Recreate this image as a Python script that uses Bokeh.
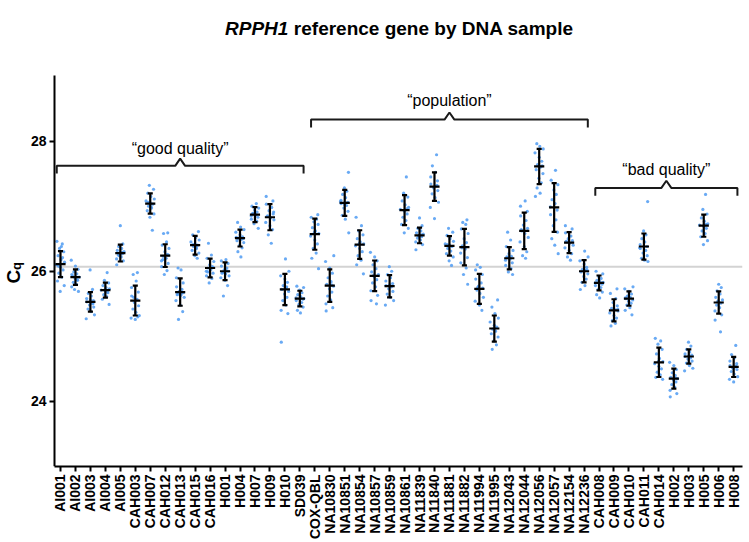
import math
from bokeh.plotting import figure
from bokeh.models import ColumnDataSource, FixedTicker
from bokeh.core.properties import value
from bokeh.embed import file_html
from bokeh.resources import INLINE

# ---------------- data ----------------
samples = ["AI001", "AI002", "AI003", "AI004", "AI005", "CAH003", "CAH007", "CAH012",
           "CAH013", "CAH015", "CAH016", "H001", "H004", "H007", "H009", "H010", "SD039",
           "COX-QBL", "NA10830", "NA10851", "NA10854", "NA10857", "NA10859", "NA10861",
           "NA11839", "NA11840", "NA11881", "NA11882", "NA11994", "NA11995", "NA12043",
           "NA12044", "NA12056", "NA12057", "NA12154", "NA12236",
           "CAH008", "CAH009", "CAH010", "CAH011", "CAH014", "H002", "H003", "H005",
           "H006", "H008"]

means = [26.11, 25.91, 25.53, 25.71, 26.28, 25.55, 27.04, 26.24, 25.68, 26.40, 26.05,
         26.00, 26.51, 26.87, 26.83, 25.72, 25.58,
         26.57, 25.78, 27.05, 26.41, 25.93, 25.77, 26.94, 26.55, 27.30, 26.39, 26.37,
         25.73, 25.12, 26.20, 26.62, 27.61, 26.98, 26.44, 26.00,
         25.82, 25.40, 25.58, 26.38, 24.60, 24.35, 24.69, 26.70, 25.52, 24.53]

errs = [0.20, 0.12, 0.15, 0.115, 0.13, 0.23, 0.155, 0.175, 0.21, 0.145, 0.145,
        0.135, 0.13, 0.115, 0.20, 0.24, 0.12,
        0.24, 0.25, 0.20, 0.22, 0.235, 0.17, 0.23, 0.12, 0.22, 0.15, 0.28,
        0.23, 0.20, 0.17, 0.28, 0.27, 0.375, 0.16, 0.17,
        0.115, 0.17, 0.11, 0.20, 0.225, 0.155, 0.11, 0.17, 0.17, 0.155]

cq_points = [
    [26.46, 26.42, 26.35, 26.30, 26.24, 26.18, 26.14, 26.10, 26.06, 26.02, 25.97, 25.91, 25.85, 25.78, 25.69, 26.21, 26.08, 26.38],
    [26.17, 26.08, 26.03, 25.99, 25.96, 25.93, 25.91, 25.89, 25.86, 25.83, 25.80, 25.76, 25.69, 25.95, 25.87, 25.72],
    [26.02, 25.72, 25.66, 25.62, 25.58, 25.55, 25.53, 25.51, 25.48, 25.45, 25.42, 25.38, 25.33, 25.27, 25.56, 25.50],
    [25.98, 25.86, 25.82, 25.78, 25.75, 25.73, 25.71, 25.69, 25.67, 25.64, 25.61, 25.57, 25.49, 25.72, 25.68],
    [26.70, 26.42, 26.38, 26.35, 26.32, 26.30, 26.28, 26.27, 26.25, 26.22, 26.19, 26.16, 26.10, 26.29, 26.24],
    [25.98, 25.95, 25.85, 25.75, 25.68, 25.62, 25.57, 25.52, 25.47, 25.42, 25.37, 25.32, 25.28, 25.26, 25.30, 25.60],
    [27.32, 27.26, 27.20, 27.15, 27.11, 27.08, 27.05, 27.03, 27.00, 26.97, 26.93, 26.88, 26.83, 26.63, 27.06, 26.99],
    [26.59, 26.58, 26.45, 26.40, 26.35, 26.30, 26.26, 26.23, 26.20, 26.16, 26.12, 26.07, 26.01, 25.95, 26.25, 26.18],
    [26.05, 26.02, 25.90, 25.82, 25.76, 25.72, 25.69, 25.67, 25.65, 25.63, 25.60, 25.55, 25.48, 25.38, 25.26, 25.66, 25.64],
    [26.61, 26.56, 26.52, 26.48, 26.45, 26.42, 26.40, 26.38, 26.35, 26.32, 26.28, 26.24, 26.20, 26.41, 26.37],
    [26.43, 26.25, 26.20, 26.15, 26.10, 26.07, 26.05, 26.03, 26.00, 25.97, 25.93, 25.89, 25.82, 26.06, 25.99],
    [26.18, 26.16, 26.12, 26.08, 26.05, 26.02, 26.00, 25.98, 25.96, 25.93, 25.90, 25.86, 25.78, 25.62, 26.01, 25.97],
    [26.75, 26.68, 26.64, 26.60, 26.56, 26.53, 26.51, 26.49, 26.47, 26.44, 26.40, 26.36, 26.30, 26.22, 26.52, 26.50],
    [27.04, 27.00, 26.97, 26.94, 26.91, 26.89, 26.87, 26.85, 26.83, 26.80, 26.77, 26.73, 26.66, 26.88, 26.86],
    [27.15, 27.08, 27.03, 26.98, 26.93, 26.88, 26.85, 26.82, 26.79, 26.75, 26.70, 26.64, 26.56, 26.43, 26.84, 26.91],
    [26.19, 26.00, 25.93, 25.88, 25.83, 25.78, 25.75, 25.72, 25.69, 25.65, 25.60, 25.55, 25.48, 25.40, 25.35, 24.91, 25.76],
    [25.77, 25.75, 25.71, 25.67, 25.64, 25.61, 25.59, 25.57, 25.55, 25.52, 25.49, 25.45, 25.40, 25.36, 25.58],
    [26.87, 26.83, 26.80, 26.76, 26.72, 26.67, 26.62, 26.58, 26.54, 26.48, 26.42, 26.35, 26.28, 26.20, 26.04, 26.60],
    [26.24, 26.15, 26.05, 25.97, 25.90, 25.84, 25.80, 25.77, 25.73, 25.68, 25.62, 25.56, 25.50, 25.44, 25.39, 25.79],
    [27.52, 27.28, 27.23, 27.18, 27.13, 27.09, 27.06, 27.04, 27.01, 26.97, 26.92, 26.86, 26.80, 26.59, 27.07, 27.02],
    [26.83, 26.70, 26.62, 26.56, 26.50, 26.45, 26.42, 26.39, 26.35, 26.30, 26.24, 26.17, 26.10, 25.96, 26.43],
    [26.29, 26.22, 26.16, 26.10, 26.04, 25.99, 25.95, 25.91, 25.87, 25.82, 25.76, 25.70, 25.63, 25.55, 25.50, 25.94],
    [26.07, 26.00, 25.95, 25.90, 25.85, 25.81, 25.78, 25.76, 25.73, 25.69, 25.65, 25.60, 25.55, 25.48, 25.79],
    [27.45, 27.20, 27.14, 27.08, 27.02, 26.98, 26.95, 26.92, 26.88, 26.83, 26.78, 26.72, 26.66, 26.59, 26.96],
    [26.82, 26.70, 26.66, 26.62, 26.59, 26.57, 26.55, 26.53, 26.51, 26.48, 26.45, 26.41, 26.33, 26.56, 26.54],
    [27.79, 27.62, 27.52, 27.45, 27.39, 27.34, 27.31, 27.28, 27.24, 27.19, 27.13, 27.06, 26.98, 26.81, 27.32],
    [26.66, 26.60, 26.55, 26.50, 26.46, 26.42, 26.40, 26.38, 26.35, 26.31, 26.27, 26.22, 26.16, 26.09, 26.41],
    [26.79, 26.75, 26.72, 26.65, 26.58, 26.50, 26.44, 26.39, 26.34, 26.28, 26.21, 26.13, 26.05, 25.95, 25.80, 26.36],
    [26.10, 26.06, 26.02, 25.95, 25.88, 25.82, 25.77, 25.74, 25.71, 25.66, 25.60, 25.54, 25.48, 25.40, 25.75],
    [25.56, 25.45, 25.35, 25.28, 25.22, 25.17, 25.14, 25.11, 25.08, 25.04, 24.99, 24.93, 24.87, 24.80, 25.13],
    [26.60, 26.48, 26.38, 26.32, 26.27, 26.23, 26.21, 26.19, 26.17, 26.13, 26.09, 26.04, 25.99, 25.95, 26.22],
    [27.08, 27.00, 26.92, 26.85, 26.78, 26.71, 26.66, 26.62, 26.58, 26.52, 26.45, 26.38, 26.30, 26.24, 26.20, 26.64],
    [27.96, 27.92, 27.88, 27.82, 27.75, 27.69, 27.64, 27.60, 27.56, 27.50, 27.43, 27.36, 27.28, 27.20, 27.15, 27.62],
    [27.55, 27.40, 27.33, 27.25, 27.18, 27.10, 27.04, 26.99, 26.94, 26.87, 26.79, 26.70, 26.60, 26.50, 26.40, 26.27],
    [26.70, 26.65, 26.59, 26.54, 26.50, 26.47, 26.45, 26.43, 26.40, 26.36, 26.32, 26.27, 26.22, 26.17, 26.46],
    [26.31, 26.22, 26.16, 26.11, 26.06, 26.03, 26.01, 25.99, 25.96, 25.92, 25.88, 25.83, 25.78, 25.72, 26.02],
    [26.00, 25.96, 25.92, 25.89, 25.86, 25.84, 25.82, 25.80, 25.78, 25.75, 25.72, 25.68, 25.64, 25.59, 25.83],
    [25.73, 25.66, 25.58, 25.52, 25.47, 25.43, 25.41, 25.39, 25.36, 25.32, 25.28, 25.24, 25.20, 25.16, 25.42],
    [25.76, 25.73, 25.69, 25.65, 25.62, 25.60, 25.58, 25.56, 25.54, 25.51, 25.48, 25.44, 25.40, 25.33, 25.59],
    [27.07, 26.62, 26.56, 26.50, 26.45, 26.41, 26.38, 26.35, 26.32, 26.28, 26.24, 26.20, 26.17, 26.15, 26.36],
    [24.97, 24.93, 24.88, 24.80, 24.73, 24.66, 24.61, 24.58, 24.54, 24.50, 24.45, 24.41, 24.37, 24.34, 24.62],
    [24.60, 24.55, 24.49, 24.44, 24.40, 24.37, 24.35, 24.33, 24.30, 24.26, 24.22, 24.17, 24.12, 24.07, 24.36],
    [24.91, 24.85, 24.80, 24.76, 24.73, 24.71, 24.69, 24.67, 24.65, 24.62, 24.59, 24.55, 24.51, 24.47, 24.70],
    [27.18, 26.95, 26.88, 26.82, 26.77, 26.73, 26.71, 26.69, 26.66, 26.62, 26.58, 26.53, 26.47, 26.41, 26.72],
    [25.80, 25.75, 25.70, 25.65, 25.60, 25.56, 25.53, 25.51, 25.48, 25.44, 25.39, 25.33, 25.25, 25.07, 25.54],
    [24.86, 24.72, 24.67, 24.62, 24.58, 24.55, 24.53, 24.51, 24.49, 24.46, 24.42, 24.38, 24.34, 24.30, 24.54],
]

group_labels = ["\u201cgood quality\u201d", "\u201cpopulation\u201d", "\u201cbad quality\u201d"]
group_first = [0, 17, 36]
group_last = [16, 35, 45]
reference_cq = 26.07
y_ticks = [24, 26, 28]
y_min, y_max = 23, 29

# ---------------- layout / style constants ----------------
FONT = "Liberation Sans"
X_AXIS_AT = -0.4          # where the y axis sits (data units)
X_LO, X_HI = -4.01, 45.59  # full frame (title and C_q live inside the frame)
Y_TOP = 30.16
BRACKET_Y = [27.62, 28.33, 27.28]
LABEL_Y = [27.89, 28.62, 27.57]
JIT = [-0.24, 0.12, -0.06, 0.22, -0.16, 0.04, 0.27, -0.28, 0.0, 0.17,
       -0.11, 0.09, -0.2, 0.25, -0.02, 0.14, -0.14, 0.06, -0.25, 0.2]
DOT_COLOR = "#4f9bf2"

n = len(samples)
idx = list(range(n))

p = figure(frame_width=742, frame_height=466,
           x_range=(X_LO, X_HI), y_range=(y_min, Y_TOP),
           min_border_left=0, min_border_right=6, min_border_top=0, min_border_bottom=66,
           output_backend="svg", toolbar_location=None, title=None,
           background_fill_color="white", border_fill_color="white")
p.outline_line_color = None
p.grid.visible = False

# reference line
p.segment(x0=[X_AXIS_AT], x1=[X_HI], y0=[reference_cq], y1=[reference_cq],
          line_color="#d3d3d3", line_width=2)

# jittered points
px, py = [], []
for i, pts in enumerate(cq_points):
    for k, v in enumerate(pts):
        px.append(i + JIT[(k + 7 * i) % len(JIT)])
        py.append(v)
p.scatter(px, py, size=3.2, fill_color=DOT_COLOR, line_color=None, fill_alpha=0.85)

# error bars and mean
lo = [m - e for m, e in zip(means, errs)]
hi = [m + e for m, e in zip(means, errs)]
src = ColumnDataSource(dict(
    x=idx, lo=lo, hi=hi, m=means,
    cl=[i - 0.17 for i in idx], cr=[i + 0.17 for i in idx],
    ml=[i - 0.34 for i in idx], mr=[i + 0.34 for i in idx]))
for a, b, c, d in [("x", "x", "lo", "hi"), ("cl", "cr", "lo", "lo"),
                   ("cl", "cr", "hi", "hi"), ("ml", "mr", "m", "m")]:
    p.segment(x0=a, x1=b, y0=c, y1=d, source=src, line_color="black", line_width=2.2)

# group brackets
for lab, a, b, by, ly in zip(group_labels, group_first, group_last, BRACKET_Y, LABEL_Y):
    c = (a + b) / 2.0
    xl, xr = a - 0.25, b + 0.25
    xs = [xl, xl, c - 0.33, c, c + 0.33, xr, xr]
    ys = [by - 0.12, by, by, by + 0.11, by, by, by - 0.12]
    p.line(xs, ys, line_color="#1a1a1a", line_width=2)
    p.text(x=[c], y=[ly], text=[lab], text_font=value(FONT), text_font_size="16px",
           text_align="center", text_baseline="alphabetic", text_color="black")

# axes
for ax in (p.xaxis[0], p.yaxis[0]):
    ax.axis_line_width = 2
    ax.axis_line_color = "black"
    ax.major_tick_line_width = 2
    ax.major_tick_line_color = "black"
    ax.major_tick_in = 0
    ax.major_tick_out = 5
    ax.minor_tick_line_color = None
    ax.major_label_text_font = FONT
    ax.major_label_text_font_style = "bold"
    ax.major_label_text_color = "black"

p.yaxis.ticker = FixedTicker(ticks=y_ticks)
p.yaxis.bounds = (y_min, y_max)
p.yaxis.fixed_location = X_AXIS_AT
p.yaxis.major_label_text_font_size = "14px"
p.yaxis.major_label_standoff = 3

p.xaxis.ticker = FixedTicker(ticks=idx)
p.xaxis.bounds = (X_AXIS_AT, X_HI)
p.xaxis.major_label_overrides = {i: s for i, s in enumerate(samples)}
p.xaxis.major_label_orientation = math.pi / 2
p.xaxis.major_label_text_font_size = "14px"
p.xaxis.major_label_standoff = 3

# y-axis label C_q (subscript q), rotated
p.text(x=[-3.15], y=[25.81], text=["C"], angle=math.pi / 2, text_font=value(FONT),
       text_font_size="19px", text_font_style="bold", text_align="left",
       text_baseline="alphabetic", text_color="black")
p.text(x=[-2.91], y=[26.02], text=["q"], angle=math.pi / 2, text_font=value(FONT),
       text_font_size="13px", text_font_style="bold", text_align="left",
       text_baseline="alphabetic", text_color="black")

# title with italic gene name
p.text(x=[11.0], y=[29.73], text=["RPPH1"], text_font=value(FONT), text_font_size="19px",
       text_font_style="bold italic", text_align="left", text_baseline="alphabetic",
       text_color="black")
p.text(x=[15.6], y=[29.73], text=["reference gene by DNA sample"], text_font=value(FONT),
       text_font_size="19px", text_font_style="bold", text_align="left",
       text_baseline="alphabetic", text_color="black")

open("out.html", "w").write(file_html(p, INLINE))
